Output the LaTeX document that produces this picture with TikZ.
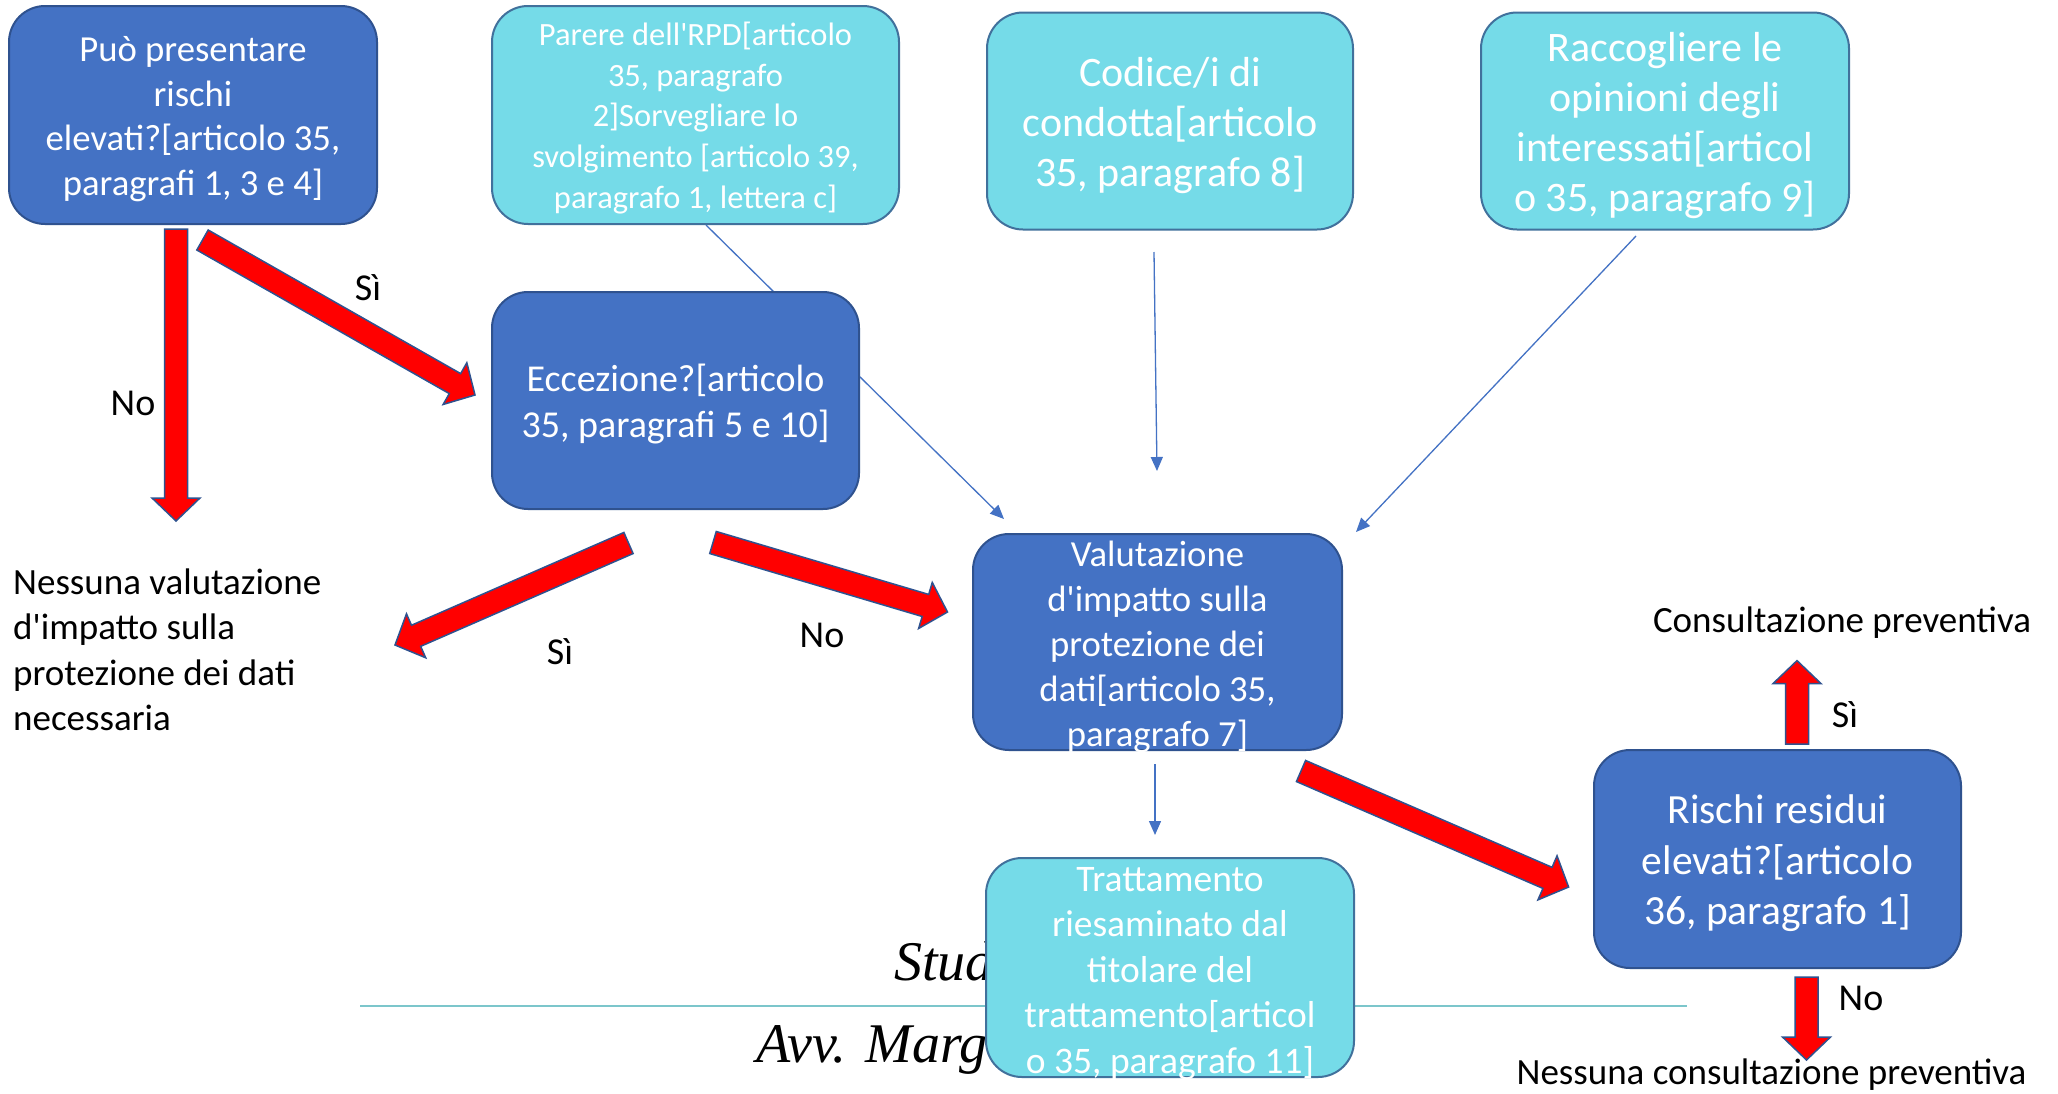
\documentclass[tikz,border=0pt]{standalone}
\usepackage{fontspec}
\setmainfont{Carlito}
\newfontfamily\plainc{Carlito}
\newfontfamily\wmfont{Liberation Serif}
\usetikzlibrary{arrows.meta,calc}
\definecolor{dblue}{HTML}{4472C4}
\definecolor{bord}{HTML}{2F528F}
\definecolor{cyanf}{HTML}{75DBE8}
\definecolor{cyanb}{HTML}{41719C}
\definecolor{teal1}{HTML}{7CC6CB}
\newcommand\ap{{\plainc'}}
\newcommand\topst{\rule{0pt}{0.95em}}
\newcommand\botst{\rule[-0.22em]{0pt}{0pt}}
\newcommand\redarrow[2]{%
 \draw[redarr] let \p1=(#1), \p2=(#2),
   \n1={atan2(\y2-\y1,\x2-\x1)},
   \n2={veclen(\x2-\x1,\y2-\y1)-23pt}
 in ($(\p1)+(\n1+90:11.5pt)$)
 -- ($(\p1)+(\n1:\n2)+(\n1+90:11.5pt)$)
 -- ($(\p1)+(\n1:\n2)+(\n1+90:24pt)$)
 -- (\p2)
 -- ($(\p1)+(\n1:\n2)+(\n1-90:24pt)$)
 -- ($(\p1)+(\n1:\n2)+(\n1-90:11.5pt)$)
 -- ($(\p1)+(\n1-90:11.5pt)$) -- cycle;}
\tikzset{
 box/.style={rounded corners=36pt, line width=2pt, text=white, align=center, inner sep=0pt},
 dbox/.style={box, fill=dblue, draw=bord},
 cbox/.style={box, fill=cyanf, draw=cyanb},
 boxtext/.style={text=white, align=center, inner sep=0pt},
 redarr/.style={fill=red, draw=bord, line width=1.5pt, line join=miter},
 thinarr/.style={draw=dblue, line width=1.3pt, -{Triangle[length=14pt,width=12pt]}},
 lbl/.style={text=black, inner sep=0pt, font=\fontsize{38}{46}\selectfont},
 fA/.style={font=\fontsize{36.7}{44.8}\selectfont},
 fB/.style={font=\fontsize{42}{50}\selectfont},
 wm/.style={anchor=base west, inner sep=0pt, font=\wmfont\itshape\fontsize{56}{64}\selectfont},
}
\begin{document}
\begin{tikzpicture}[x=1pt,y=-1pt]
\fill[white] (0,0) rectangle (2058,1093);
\path[use as bounding box] (0,0) rectangle (2058,1093);
% watermark
\draw[teal1, line width=2pt] (360,1006) -- (1687,1006);
\node[wm] (wm1) at (894,980) {Studio};
\node[wm] (wm2) at (756,1062) {Avv. Marg};
% coordinates for thin connectors
\coordinate (t1s) at (706,225);
\coordinate (t1e) at (1004,519);
\coordinate (t2s) at (1154,252);
\coordinate (t2e) at (1157,471);
\coordinate (t3s) at (1636,236);
\coordinate (t3e) at (1356,532);
\coordinate (t4s) at (1155,764);
\coordinate (t4e) at (1155,835);
\draw[thinarr] (t1s) -- (t1e);
% nodes
\node[dbox, fA, minimum width=368pt, minimum height=218pt] (rischi1) at (193,115)
 {\topst Può presentare\\rischi\\elevati?[articolo 35,\\paragrafi 1, 3 e 4]\botst};
\node[cbox, font=\fontsize{32.5}{40.7}\selectfont, minimum width=407pt, minimum height=218pt] (parere) at (695.5,115)
 {\topst Parere dell\ap RPD[articolo\\35, paragrafo\\2]Sorvegliare lo\\svolgimento [articolo 39,\\paragrafo 1, lettera c]\botst};
\node[cbox, fB, minimum width=366pt, minimum height=217pt] (codice) at (1170,121)
 {\topst Codice/i di\\condotta[articolo\\35, paragrafo 8]\botst};
\node[cbox, fB, minimum width=368pt, minimum height=217pt] (raccogli) at (1665,121)
 {\topst Raccogliere le\\opinioni degli\\interessati[articol\\o 35, paragrafo 9]\botst};
\node[dbox, font=\fontsize{38}{46.5}\selectfont, minimum width=367pt, minimum height=217pt] (eccez) at (675.5,400.5)
 {\topst Eccezione?[articolo\\35, paragrafi 5 e 10]\botst};
\node[dbox, minimum width=369pt, minimum height=216pt] (valut) at (1157.5,642) {};
\node[boxtext, fA] (valuttxt) at ($(valut.center)+(0,1)$)
 {\topst Valutazione\\d\ap impatto sulla\\protezione dei\\dati[articolo 35,\\paragrafo 7]\botst};
\node[cbox, minimum width=368pt, minimum height=219pt] (tratt) at (1170,967.5) {};
\node[boxtext, font=\fontsize{37.5}{45.5}\selectfont] (tratttxt) at ($(tratt.center)+(0,1)$)
 {\topst Trattamento\\riesaminato dal\\titolare del\\trattamento[articol\\o 35, paragrafo 11]\botst};
\node[dbox, font=\fontsize{41.5}{50.8}\selectfont, minimum width=367pt, minimum height=218pt] (residui) at (1777.5,859)
 {\topst Rischi residui\\elevati?[articolo\\36, paragrafo 1]\botst};
% plain texts
\node[anchor=west, align=left, inner sep=0pt, font=\fontsize{37}{45.5}\selectfont] (nessval) at (13,650)
 {Nessuna valutazione\\d\ap impatto sulla\\protezione dei dati\\necessaria};
\node[inner sep=0pt, font=\fontsize{37}{45}\selectfont] (consprev) at (1842,622.5) {Consultazione preventiva};
\node[inner sep=0pt, font=\fontsize{37}{45}\selectfont] (nesscons) at (1771.5,1075) {Nessuna consultazione preventiva};
% thin connectors
\draw[thinarr] (t2s) -- (t2e);
\draw[thinarr] (t3s) -- (t3e);
\draw[thinarr] (t4s) -- (t4e);
% red block arrows
\coordinate (a1s) at (176,229);   \coordinate (a1e) at (176,521);
\coordinate (a2s) at (202.5,240); \coordinate (a2e) at (475,395);
\coordinate (a3s) at (628.5,543); \coordinate (a3e) at (395,645);
\coordinate (a4s) at (713,542.5); \coordinate (a4e) at (947.5,612);
\coordinate (a5s) at (1301,771);  \coordinate (a5e) at (1568.6,887);
\coordinate (a6s) at (1797,744);  \coordinate (a6e) at (1797,660.6);
\coordinate (a7s) at (1806.5,977);\coordinate (a7e) at (1806.5,1060);
\redarrow{a1s}{a1e}
\redarrow{a2s}{a2e}
\redarrow{a3s}{a3e}
\redarrow{a4s}{a4e}
\redarrow{a5s}{a5e}
\redarrow{a6s}{a6e}
\redarrow{a7s}{a7e}
% labels
\node[lbl] (l1) at (368,288) {Sì};
\node[lbl] (l2) at (133,403) {No};
\node[lbl] (l3) at (560,652) {Sì};
\node[lbl] (l4) at (822,635) {No};
\node[lbl] (l5) at (1845,714.5) {Sì};
\node[lbl] (l6) at (1861,998) {No};
\end{tikzpicture}
\end{document}
